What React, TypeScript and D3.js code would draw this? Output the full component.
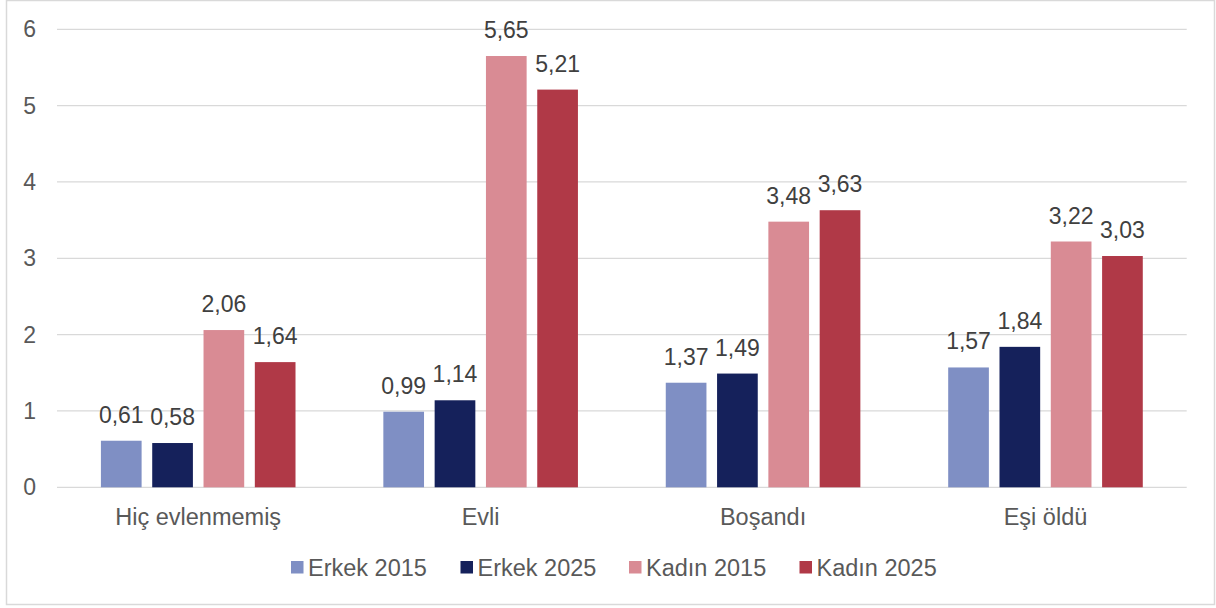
import React, { useRef, useEffect } from "react";
import * as d3 from "d3";

const categories = ["Hiç evlenmemiş", "Evli", "Boşandı", "Eşi öldü"];
const seriesNames = ["Erkek 2015", "Erkek 2025", "Kadın 2015", "Kadın 2025"];
const erkek2015 = [0.61, 0.99, 1.37, 1.57];
const erkek2025 = [0.58, 1.14, 1.49, 1.84];
const kadin2015 = [2.06, 5.65, 3.48, 3.22];
const kadin2025 = [1.64, 5.21, 3.63, 3.03];
const yTicks = [0, 1, 2, 3, 4, 5, 6];
const colors = ["#7f8fc4", "#15215b", "#d98b94", "#b03947"];

const FONT = "'Liberation Sans', Arial, sans-serif";

const App = () => {
    const svgRef = useRef<SVGSVGElement>(null);
    const width = 1216;
    const height = 608;

    useEffect(() => {
        const svg = d3.select(svgRef.current);
        svg.selectAll("*").remove();

        const series = [erkek2015, erkek2025, kadin2015, kadin2025];

        // chart frame
        svg.append("rect")
            .attr("x", 6.5).attr("y", 0.5)
            .attr("width", 1208).attr("height", 604)
            .attr("fill", "#fff")
            .attr("stroke", "#d9d9d9")
            .attr("stroke-width", 1.5);

        const x = d3.scaleBand()
            .domain(categories)
            .range([57, 1186.7]);

        const bw = x.bandwidth();
        const xInner = d3.scaleBand()
            .domain(seriesNames)
            .range([bw * 0.1555, bw * 0.8445])
            .paddingInner(0.207);

        const y = d3.scaleLinear()
            .domain([0, 6])
            .range([487.3, 29.3]);

        // gridlines
        svg.append("g")
            .selectAll("line")
            .data(yTicks)
            .enter()
            .append("line")
            .attr("x1", 57).attr("x2", 1186.7)
            .attr("y1", d => y(d)).attr("y2", d => y(d))
            .attr("stroke", "#d9d9d9")
            .attr("stroke-width", 1.3);

        // y tick labels
        svg.append("g")
            .selectAll("text")
            .data(yTicks)
            .enter()
            .append("text")
            .attr("x", 36)
            .attr("y", d => y(d))
            .attr("dy", "0.35em")
            .attr("text-anchor", "end")
            .attr("font-family", FONT)
            .attr("font-size", 23)
            .attr("fill", "#595959")
            .text(d => d);

        // bars
        series.forEach((vals, si) => {
            const g = svg.append("g");
            g.selectAll("rect")
                .data(vals)
                .enter()
                .append("rect")
                .attr("x", (d, i) => x(categories[i])! + xInner(seriesNames[si])!)
                .attr("y", d => y(d))
                .attr("width", xInner.bandwidth())
                .attr("height", d => y(0) - y(d))
                .attr("fill", colors[si]);

            g.selectAll("text")
                .data(vals)
                .enter()
                .append("text")
                .attr("x", (d, i) => x(categories[i])! + xInner(seriesNames[si])! + xInner.bandwidth() / 2)
                .attr("y", d => y(d) - 18)
                .attr("text-anchor", "middle")
                .attr("font-family", FONT)
                .attr("font-size", 23)
                .attr("fill", "#404040")
                .text(d => d3.format(".2f")(d).replace(".", ","));
        });

        // category labels
        svg.append("g")
            .selectAll("text")
            .data(categories)
            .enter()
            .append("text")
            .attr("x", d => x(d)! + bw / 2)
            .attr("y", 525)
            .attr("text-anchor", "middle")
            .attr("font-family", FONT)
            .attr("font-size", 23.5)
            .attr("fill", "#595959")
            .text(d => d);

        // legend
        const legendX = [291, 460.5, 629, 799.5];
        const lg = svg.append("g");
        seriesNames.forEach((name, i) => {
            lg.append("rect")
                .attr("x", legendX[i]).attr("y", 561)
                .attr("width", 12.5).attr("height", 12.5)
                .attr("fill", colors[i]);
            lg.append("text")
                .attr("x", legendX[i] + 17)
                .attr("y", 576)
                .attr("font-family", FONT)
                .attr("font-size", 23.5)
                .attr("fill", "#595959")
                .text(name);
        });
    }, []);

    return (
        <svg
            ref={svgRef}
            width={width}
            height={height}
            style={{ position: "absolute", left: 0, top: 0 }}
        />
    );
};

export default App;
